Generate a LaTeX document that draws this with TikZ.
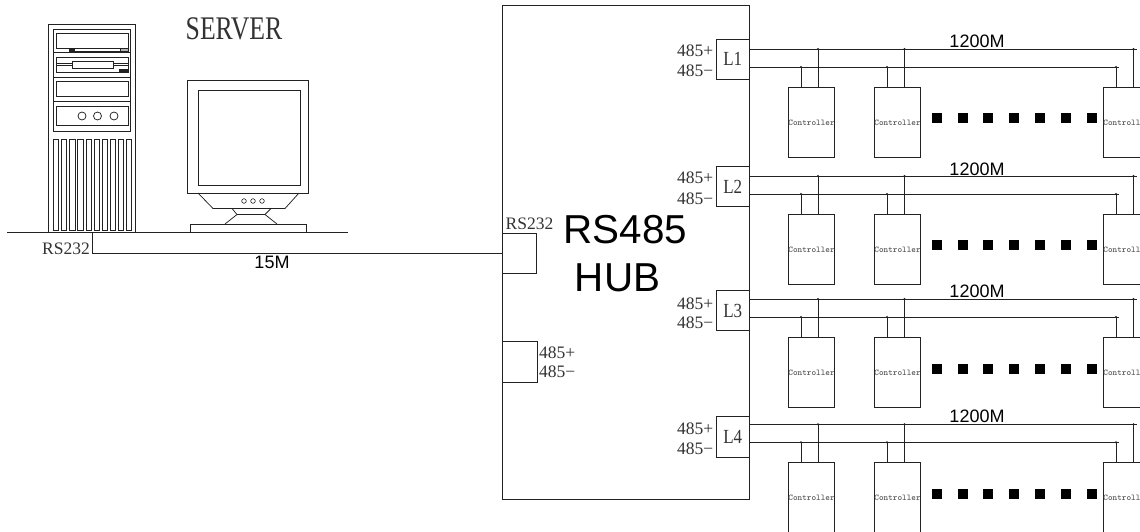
\documentclass[tikz,border=0pt]{standalone}
\usepackage{graphicx}
\usepackage{fontspec}
\setmainfont{Liberation Serif}
\newfontfamily\arialf{Liberation Sans}
\newcommand{\fsz}[1]{\fontsize{#1}{#1}\selectfont}
\definecolor{ink}{HTML}{222222}
\definecolor{txt}{HTML}{333333}
\definecolor{ctxt}{HTML}{444444}
\tikzset{
  ln/.style={draw=ink,line width=0.85pt},
  boxn/.style={ln,rectangle,inner sep=0pt,anchor=north west,minimum width=#1},
  ctrl/.style={boxn=46pt,minimum height=70pt,font=\ttfamily\fsz{8.8},text=ctxt},
  port/.style={boxn=34pt,minimum height=40.5pt},
  lbl/.style={inner sep=0pt,anchor=base west,font=\fsz{17.5},text=txt},
  sanslbl/.style={inner sep=0pt,anchor=base,font=\arialf\fsz{18},text=black},
  sq/.style={fill=black,draw=none,minimum size=10pt,inner sep=0pt,anchor=north west,rectangle},
  jn/.style={fill=ink,draw=none,circle,inner sep=0pt,minimum size=2.4pt},
  thinln/.style={draw=ink,line width=0.75pt}
}
\begin{document}
\begin{tikzpicture}[x=1pt,y=-1pt]
\useasboundingbox (0,0) rectangle (1140,531);
\clip (0,0) rectangle (1140,531);
% server tower
\node[boxn=87pt,minimum height=208pt] (tower) at (48,24) {};
\draw[thinln] (53,29) rectangle (130.5,131);
\draw[thinln] (53,52)--(130.5,52) (53,77)--(130.5,77) (53,101)--(130.5,101);
\draw[thinln] (56.5,33) rectangle (128,48);
\fill[ink] (69,48.5) rectangle (75,51.5);
\draw[thinln] (75,48.5)--(120,48.5) (75,51)--(120,51);
\draw[thinln,fill=gray!60] (120,48.5) rectangle (128,51);
\draw[thinln] (56.5,57) rectangle (128,72);
\draw[thinln] (56.5,63)--(72,63) (113,63)--(128,63) (56.5,65.5)--(72,65.5) (113,65.5)--(128,65.5);
\draw[thinln,fill=white] (72,61) rectangle (113,68.5);
\fill[ink] (119,68.5) rectangle (128,72);
\draw[thinln] (56.5,81) rectangle (128,96);
\draw[thinln] (56.5,106) rectangle (128,125);
\foreach \cx in {82,97.5,114} \draw[thinln] (\cx,116) circle (4);
\foreach \i in {0,...,9} {
  \pgfmathsetmacro{\vx}{53.4+8.13*\i}
  \draw[thinln] (\vx,139) rectangle (\vx+5.3,230);
}
% monitor
\node[boxn=121pt,minimum height=113pt] (mon) at (187,80) {};
\node[boxn=101.5pt,minimum height=95pt] (screen) at (198,90) {};
\draw[thinln] (198,193)--(213,208.5)--(285,208.5)--(299,193);
\draw[thinln] (232,208.5)--(237,214.5)--(265,214.5)--(271,208.5);
\draw[thinln] (237,214.5)--(225,224) (265,214.5)--(277,224);
\foreach \cx in {244,253,262} \draw[line width=0.6pt,draw=ink] (\cx,201) circle (2.3);
\node[boxn=116pt,minimum height=8pt] (mbase) at (190,224) {};
% ground line
\coordinate (g0) at (7,232);
\coordinate (g1) at (348,232);
\draw[ln] (g0)--(g1);
\node[inner sep=0pt,anchor=base,font=\fsz{33},text=txt] (srvt) at (234,39) {\scalebox{.78}[1]{SERVER}};
\node[lbl] (rs1) at (42,254) {RS232};
\node[sanslbl] (m15) at (272,268) {15M};
% hub
\node[boxn=247pt,minimum height=493.5pt] (hub) at (502,5) {};
\node[port] (rsport) at (502,232.5) {};
\node[port,minimum width=34.5pt] (pport) at (502,341) {};
\node[lbl] (rs2) at (505.5,229.5) {RS232};
\node[lbl] (pp) at (539,358) {485+};
\node[lbl] (pm) at (539,377) {485−};
\node[inner sep=0pt,anchor=base,font=\arialf\fsz{40.4},text=black] (h1) at (625.5,243) {RS485};
\node[inner sep=0pt,anchor=base,font=\arialf\fsz{40.4},text=black] (h2) at (617.5,291) {HUB};
\coordinate (wcorner) at (tower.south);
\draw[ln] (wcorner) |- (rsport.west);
% lines
\foreach \n/\bt/\bh/\lp/\lm/\ct/\sqy/\tl/\a/\b in {
  1/38.5/40.5/49/67/87/113/47.5/56/76,
  2/165.7/40.5/176/194/214/240/175/183/204,
  3/290.3/40/299/317/337.3/363.3/297.3/309/328,
  4/416/40.7/424.3/442.3/462.3/489/422.3/434/454}{
  \node[boxn=33.5pt,minimum height=\bh pt,font=\fsz{20},text=txt] (L\n) at (715.6,\bt) {\scalebox{.85}[1]{L\n}};
  \node[lbl] (pl\n) at (677,\a) {485+};
  \node[lbl] (mi\n) at (677,\b) {485−};
  \node[sanslbl] (len\n) at (977,\tl) {1200M};
  \coordinate (ps\n) at (749,\lp);
  \coordinate (pe\n) at (1136.5,\lp);
  \coordinate (ms\n) at (749,\lm);
  \coordinate (me\n) at (1118.5,\lm);
  \draw[ln] (ps\n)--(pe\n);
  \draw[ln] (ms\n)--(me\n);
  \foreach \c/\cx/\mx/\px/\word in {a/788/801/818/Controller,b/874/887/904.5/Controller,c/1103/1116/1133.5/Controll}{
    \node[ctrl] (C\n\c) at (\cx,\ct) {\makebox[46pt][l]{\word}};
    \node[jn] (jm\n\c) at (\mx,\lm) {};
    \node[jn] (jp\n\c) at (\px,\lp) {};
    \draw[ln] (jm\n\c.center)--(jm\n\c.center |- C\n\c.north);
    \draw[ln] (jp\n\c.center)--(jp\n\c.center |- C\n\c.north);
  }
  \foreach \sx in {932,958,983,1009,1035,1061,1087}
    \node[sq] (s\n x\sx) at (\sx,\sqy) {};
}
\end{tikzpicture}
\end{document}
